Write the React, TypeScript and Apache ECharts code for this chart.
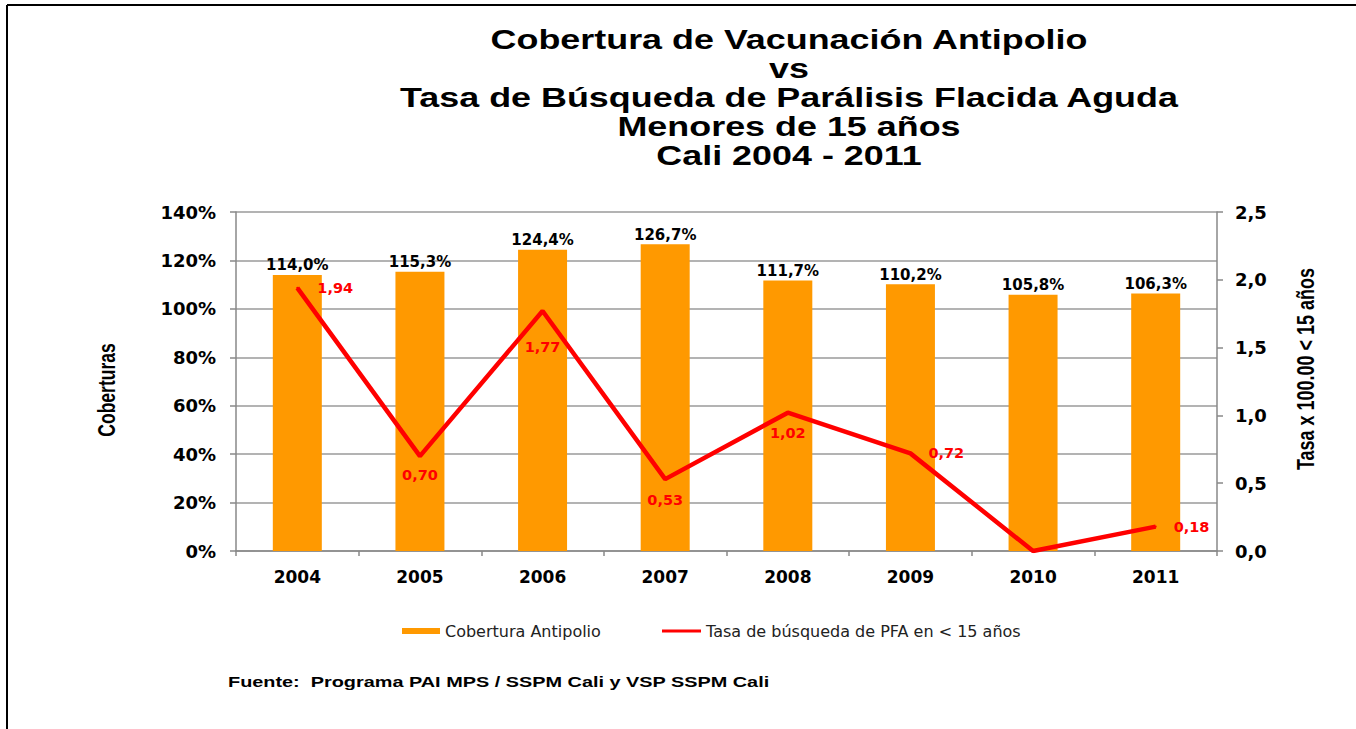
import React, { useEffect, useRef } from "react";
import * as echarts from "echarts";

const years = ["2004", "2005", "2006", "2007", "2008", "2009", "2010", "2011"];
const coverage = [114.0, 115.3, 124.4, 126.7, 111.7, 110.2, 105.8, 106.3];
const rate = [1.94, 0.7, 1.77, 0.53, 1.02, 0.72, 0.0, 0.18];
const ratePositions = ["right", "bottom", "bottom", "bottom", "bottom", "right", "none", "right"];
const rateDistances = [19, 10, 28, 12, 12, 17, 0, 17];
const titleLines = [
  "Cobertura de Vacunación Antipolio",
  "vs",
  "Tasa de Búsqueda de Parálisis Flacida Aguda",
  "Menores de 15 años",
  "Cali 2004 - 2011",
];
const leftTicks = { min: 0, max: 140, interval: 20 };
const rightTicks = { min: 0, max: 2.5, interval: 0.5 };
const leftAxisName = "Coberturas";
const rightAxisName = "Tasa x 100.00 < 15 años";
const barName = "Cobertura Antipolio";
const lineName = "Tasa de búsqueda de PFA en < 15 años";
const sourceText = "Fuente:  Programa PAI MPS / SSPM Cali y VSP SSPM Cali";

const FONT = "'Liberation Sans', Arial, sans-serif";
const WIDE = "'DejaVu Sans', Verdana, sans-serif";
const STRETCH = 1.33;

export default function App() {
  const ref = useRef<HTMLDivElement>(null);
  useEffect(() => {
    if (!ref.current) return;
    const chart = echarts.init(ref.current, undefined, { renderer: "svg" });
    const option = {
      animation: false,
      backgroundColor: "#ffffff",
      textStyle: { fontFamily: WIDE },
      graphic: [
        { type: "line", shape: { x1: 7, y1: 5, x2: 1356, y2: 5 }, style: { stroke: "#000", lineWidth: 2 } },
        { type: "line", shape: { x1: 7, y1: 5, x2: 7, y2: 729 }, style: { stroke: "#000", lineWidth: 2 } },
        {
          type: "text",
          x: 789,
          y: 25,
          scaleX: STRETCH,
          style: {
            text: titleLines.join("\n"),
            fontFamily: FONT,
            fontWeight: "bold",
            fontSize: 27,
            lineHeight: 29,
            fill: "#000",
            align: "center",
            verticalAlign: "top",
          },
        },
        {
          type: "text",
          x: 228,
          y: 682,
          scaleX: 1.38,
          style: {
            text: sourceText,
            fontFamily: FONT,
            fontWeight: "bold",
            fontSize: 14.4,
            fill: "#000",
            align: "left",
            verticalAlign: "middle",
          },
        },
        {
          type: "text",
          x: 107,
          y: 390,
          rotation: Math.PI / 2,
          scaleY: STRETCH,
          style: {
            text: leftAxisName,
            fontFamily: FONT,
            fontWeight: "bold",
            fontSize: 17.5,
            fill: "#000",
            align: "center",
            verticalAlign: "middle",
          },
        },
        {
          type: "text",
          x: 1306,
          y: 369,
          rotation: Math.PI / 2,
          scaleY: STRETCH,
          style: {
            text: rightAxisName,
            fontFamily: FONT,
            fontWeight: "bold",
            fontSize: 18,
            fill: "#000",
            align: "center",
            verticalAlign: "middle",
          },
        },
      ],
      legend: [
        {
          left: 402,
          top: 623,
          padding: 0,
          itemWidth: 38,
          itemHeight: 6,
          textStyle: { fontFamily: WIDE, fontSize: 16, color: "#222" },
          data: [{ name: barName, icon: "rect" }],
        },
        {
          left: 662,
          top: 623,
          padding: 0,
          itemWidth: 39,
          itemHeight: 3,
          textStyle: { fontFamily: WIDE, fontSize: 16, color: "#222" },
          data: [{ name: lineName, icon: "rect" }],
        },
      ],
      grid: { left: 236, right: 139, top: 212, bottom: 178, containLabel: false },
      xAxis: {
        type: "category",
        data: years,
        axisLine: { lineStyle: { color: "#888", width: 1.5 } },
        axisTick: { show: true, length: 5, lineStyle: { color: "#888", width: 1.5 } },
        axisLabel: { fontFamily: WIDE, fontWeight: "bold", fontSize: 17, color: "#000", margin: 17 },
      },
      yAxis: [
        {
          type: "value",
          min: leftTicks.min,
          max: leftTicks.max,
          interval: leftTicks.interval,
          axisLine: { show: true, lineStyle: { color: "#888", width: 1.5 } },
          axisTick: { show: true, length: 6, lineStyle: { color: "#888", width: 1.5 } },
          axisLabel: {
            fontFamily: WIDE,
            fontWeight: "bold",
            fontSize: 18,
            color: "#000",
            margin: 20,
            formatter: (v: number) => `${v}%`,
          },
          splitLine: { show: true, lineStyle: { color: "#9a9a9a", width: 1.5 } },
        },
        {
          type: "value",
          min: rightTicks.min,
          max: rightTicks.max,
          interval: rightTicks.interval,
          axisLine: { show: true, lineStyle: { color: "#888", width: 1.5 } },
          axisTick: { show: true, length: 6, lineStyle: { color: "#888", width: 1.5 } },
          axisLabel: {
            fontFamily: WIDE,
            fontWeight: "bold",
            fontSize: 18,
            color: "#000",
            margin: 18,
            formatter: (v: number) => v.toFixed(1).replace(".", ","),
          },
          splitLine: { show: false },
        },
      ],
      series: [
        {
          name: barName,
          type: "bar",
          yAxisIndex: 0,
          data: coverage,
          barWidth: 49,
          itemStyle: { color: "#FF9900" },
          label: {
            show: true,
            position: "top",
            distance: 2,
            fontFamily: WIDE,
            fontWeight: "bold",
            fontSize: 15,
            color: "#000",
            formatter: (p: any) => p.value.toFixed(1).replace(".", ",") + "%",
          },
        },
        {
          name: lineName,
          type: "line",
          yAxisIndex: 1,
          symbol: "circle",
          symbolSize: 2,
          showSymbol: true,
          lineStyle: { color: "#FF0000", width: 4.5 },
          itemStyle: { color: "#FF0000" },
          data: rate.map((v, i) => {
            const pos = ratePositions[i];
            return {
              value: v,
              label: {
                show: pos !== "none",
                position: pos === "none" ? "top" : pos,
                distance: rateDistances[i],
              },
            };
          }),
          label: {
            show: true,
            fontFamily: WIDE,
            fontWeight: "bold",
            fontSize: 14.5,
            color: "#FF0000",
            formatter: (p: any) => p.value.toFixed(2).replace(".", ","),
          },
        },
      ],
    };
    chart.setOption(option as any);
    return () => chart.dispose();
  }, []);
  return (
    <div
      ref={ref}
      style={{ position: "fixed", left: 0, top: 0, width: 1356, height: 729 }}
    />
  );
}
